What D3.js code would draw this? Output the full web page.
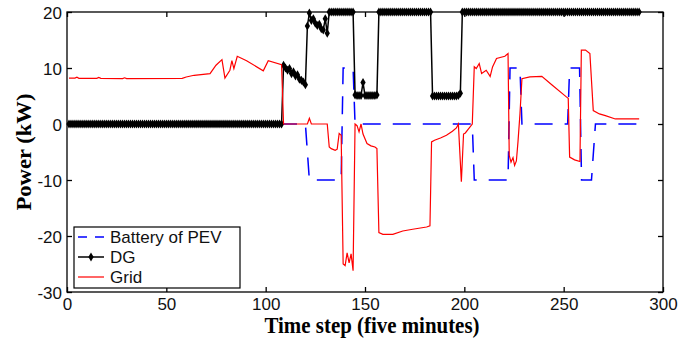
<!DOCTYPE html>
<html>
<head>
<meta charset="utf-8">
<script src="https://cdn.jsdelivr.net/npm/d3@7"></script>
<style>
  body { margin: 0; background: #fff; }
  svg { display: block; }
</style>
</head>
<body>
<div class="box"></div>
<script>
// DATA
const xTicks = [0, 50, 100, 150, 200, 250, 300];
const yTicks = [-30, -20, -10, 0, 10, 20];
const seriesNames = ["Battery of PEV", "DG", "Grid"];

// DG output, one value per time step 1..288
const dgValues = [
  0,0,0,0,0,0,0,0,0,0, 0,0,0,0,0,0,0,0,0,0,
  0,0,0,0,0,0,0,0,0,0, 0,0,0,0,0,0,0,0,0,0,
  0,0,0,0,0,0,0,0,0,0, 0,0,0,0,0,0,0,0,0,0,
  0,0,0,0,0,0,0,0,0,0, 0,0,0,0,0,0,0,0,0,0,
  0,0,0,0,0,0,0,0,0,0, 0,0,0,0,0,0,0,0,0,0,
  0,0,0,0,0,0,0,0,
  10.5,10.0,9.6,9.9,9.0,9.3,8.6,8.8,8.0,7.8,7.5,7.0,
  17.5,19.8,18.5,18.8,18.0,17.6,17.8,17.0,16.8,18.8,16.2,
  20,20,20,20,20,20,20,20,20,20,20,20,20,
  5.2,5.1,5.1,5.1,7.4,5.1,5.1,5.1,5.1,5.1,5.1,5.2,
  20,20,20,20,20,20,20,20,20,20, 20,20,20,20,20,20,20,20,20,20,
  20,20,20,20,20,20,20,
  5.0,5.0,5.0,5.0,5.0,5.0,5.0,5.0,5.0,5.0,5.0,5.0,5.0,5.1,5.5,
  20,20,20,20,20,20,20,20,20,20, 20,20,20,20,20,20,20,20,20,20,
  20,20,20,20,20,20,20,20,20,20, 20,20,20,20,20,20,20,20,20,20,
  20,20,20,20,20,20,20,20,20,20, 20,20,20,20,20,20,20,20,20,20,
  20,20,20,20,20,20,20,20,20,20, 20,20,20,20,20,20,20,20,20,20,
  20,20,20,20,20,20,20,20,20,20
];

// Battery of PEV, change points (time step, kW)
const batteryT = [1, 120, 122, 138, 139, 144, 145, 204, 205, 222, 223, 228, 229, 252, 253, 258, 259, 264, 266, 288];
const batteryV = [0, 0, -10, -10, 10, 10, 0, 0, -10, -10, 10, 10, 0, 0, 10, 10, -10, -10, 0, 0];

// Grid, change points (time step, kW)
const gridT = [
  1, 4, 5, 6, 15, 16, 17, 28, 29, 30, 58, 60, 64, 72, 75, 78, 79.5, 82, 83, 84, 85.7, 90.4, 98.8, 101.3, 108,
  109, 121, 122, 123, 131, 132, 133, 135, 136, 137, 138, 139, 140, 141, 142, 143, 144,
  145, 146, 147, 148, 149, 151, 153, 155, 156, 157, 159, 164, 169, 174, 181, 182.7,
  183.5, 185, 188, 191, 194, 196, 197, 198.5, 199.6, 200.5, 202, 204, 205, 206, 207.5, 208.7, 211, 213, 214.2, 216.2, 220.4, 222,
  222.6, 223.5, 224.5, 225.3, 226.2, 227, 228, 229, 233, 239, 244, 251.5, 252.3, 253, 255.5, 258.2,
  258.9, 261, 263.2, 264.9, 268, 271, 276, 288
];
const gridV = [
  8.2, 8.2, 8.35, 8.15, 8.15, 8.3, 8.15, 8.1, 8.25, 8.1, 8.15, 8.4, 8.7, 9.0, 10.5, 11.5, 8.2, 9.6, 11.3, 9.9, 12.1, 11.3, 9.5, 11.3, 10.6,
  0, 0, 1.0, 0, 0, -4.1, -4.4, -4.7, -4.5, -1.7, -2.0, -25.0, -25.3, -23.0, -24.8, -23.2, -26.2,
  0, -0.3, -1.4, 0, -1.8, -3.5, -3.9, -4.1, -4.4, -19.4, -19.7, -19.7, -19.1, -18.8, -18.4, -18.2,
  -3.2, -2.9, -2.5, -2.0, -1.3, -0.7, 0, -10.3, -1.8, -1.6, -0.9, 0, 10.2, 9.9, 10.8, 9.0, 9.6, 8.5, 10.2, 11.7, 12.1, 12.6,
  -5.6, -6.8, -6.0, -7.4, -6.6, -3.2, 1.8, 8.1, 8.4, 8.5, 7.0, 4.8, 4.6, -5.9, -6.4, -6.7,
  13.2, 13.2, 12.6, 2.4, 1.8, 1.5, 0.9, 0.9
];

/////////////////////////////////////////////////////////////////

// SVG
const w = 699;
const h = 343;

const svg = d3.select(".box")
              .append("svg")
              .attr("width", w)
              .attr("height", h)
              .style("background", "#fff");

const x = d3.scaleLinear().domain([0, 300]).range([67, 663]);
const y = d3.scaleLinear().domain([-30, 20]).range([292, 12]);

const tickFont = "'Liberation Sans', Arial, sans-serif";
const titleFont = "'Liberation Serif', 'Times New Roman', serif";

// AXES (ticks point inward, mirrored on top and right)
// plain hyphen for negatives, as in the original
const plain = d => String(d);

const xAxis = svg.append("g")
                 .attr("transform", "translate(0," + y(-30) + ")")
                 .call(d3.axisBottom(x).tickValues(xTicks).tickFormat(plain).tickSizeInner(-5).tickSizeOuter(0).tickPadding(6));
const yAxis = svg.append("g")
                 .attr("transform", "translate(" + x(0) + ",0)")
                 .call(d3.axisLeft(y).tickValues(yTicks).tickFormat(plain).tickSizeInner(-5).tickSizeOuter(0).tickPadding(5));
svg.append("g")
   .attr("transform", "translate(0," + y(20) + ")")
   .call(d3.axisTop(x).tickValues(xTicks).tickSizeInner(-5).tickSizeOuter(0).tickFormat(""));
svg.append("g")
   .attr("transform", "translate(" + x(300) + ",0)")
   .call(d3.axisRight(y).tickValues(yTicks).tickSizeInner(-5).tickSizeOuter(0).tickFormat(""));

svg.selectAll(".domain").remove();
svg.selectAll(".tick line").attr("stroke", "#000").attr("stroke-width", 1.3);
svg.selectAll(".tick text")
   .style("font-family", tickFont)
   .style("font-size", "17px")
   .attr("fill", "#111");
yAxis.selectAll(".tick text").attr("dy", "0.36em");

// SERIES
const line = d3.line()
               .x(d => x(d[0]))
               .y(d => y(d[1]));

const batteryData = batteryT.map((t, i) => [t, batteryV[i]]);
const dgData = dgValues.map((v, i) => [i + 1, v]);
const gridData = gridT.map((t, i) => [t, gridV[i]]);

svg.append("path")
   .datum(batteryData)
   .attr("d", line)
   .attr("fill", "none")
   .attr("stroke", "#0000ff")
   .attr("stroke-width", 1.5)
   .attr("stroke-dasharray", "18,12");

svg.append("path")
   .datum(dgData)
   .attr("d", line)
   .attr("fill", "none")
   .attr("stroke", "#000")
   .attr("stroke-width", 1.5);

const marker = d3.symbol().type(d3.symbolDiamond).size(24);
svg.append("g")
   .selectAll("path")
   .data(dgData)
   .enter()
   .append("path")
   .attr("d", marker)
   .attr("transform", d => "translate(" + x(d[0]) + "," + y(d[1]) + ")")
   .attr("fill", "#000");

svg.append("path")
   .datum(gridData)
   .attr("d", line)
   .attr("fill", "none")
   .attr("stroke", "#ff0000")
   .attr("stroke-width", 1.2);

// FRAME
svg.append("rect")
   .attr("x", x(0))
   .attr("y", y(20))
   .attr("width", x(300) - x(0))
   .attr("height", y(-30) - y(20))
   .attr("fill", "none")
   .attr("stroke", "#000")
   .attr("stroke-width", 1.3);

// TITLES
svg.append("text")
   .attr("x", 372)
   .attr("y", 333)
   .attr("text-anchor", "middle")
   .attr("textLength", 215)
   .attr("lengthAdjust", "spacingAndGlyphs")
   .style("font-family", titleFont)
   .style("font-weight", "bold")
   .style("font-size", "23px")
   .text("Time step (five minutes)");

svg.append("text")
   .attr("transform", "translate(31,152) rotate(-90)")
   .attr("text-anchor", "middle")
   .attr("textLength", 117)
   .attr("lengthAdjust", "spacingAndGlyphs")
   .style("font-family", titleFont)
   .style("font-weight", "bold")
   .style("font-size", "22px")
   .text("Power (kW)");

// LEGEND
const legend = svg.append("g").attr("id", "legend");
legend.append("rect")
      .attr("x", 74)
      .attr("y", 227)
      .attr("width", 166)
      .attr("height", 61)
      .attr("fill", "#fff")
      .attr("stroke", "#000")
      .attr("stroke-width", 1.2);

const legendY = [237, 257, 277];
const legendStroke = ["#0000ff", "#000", "#ff0000"];
const legendDash = ["9,8", null, null];
const legendWidth = [1.5, 1.5, 1.2];

seriesNames.forEach((name, i) => {
    legend.append("line")
          .attr("x1", 78)
          .attr("x2", 104)
          .attr("y1", legendY[i])
          .attr("y2", legendY[i])
          .attr("stroke", legendStroke[i])
          .attr("stroke-width", legendWidth[i])
          .attr("stroke-dasharray", legendDash[i]);
    legend.append("text")
          .attr("x", 110)
          .attr("y", legendY[i])
          .attr("dy", "0.36em")
          .style("font-family", tickFont)
          .style("font-size", "17px")
          .attr("fill", "#111")
          .text(name);
});

legend.append("path")
      .attr("d", d3.symbol().type(d3.symbolDiamond).size(24))
      .attr("transform", "translate(91," + legendY[1] + ")")
      .attr("fill", "#000");
</script>
</body>
</html>
